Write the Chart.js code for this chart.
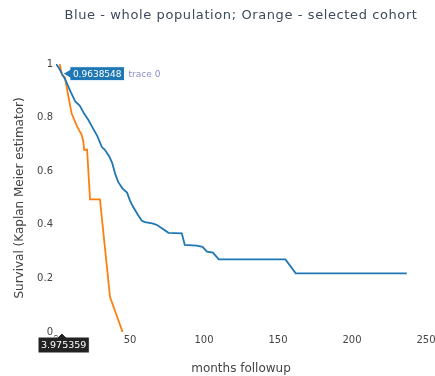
<!DOCTYPE html>
<html>
<head>
<meta charset="utf-8">
<script src="https://cdn.jsdelivr.net/npm/chart.js@4/dist/chart.umd.min.js"></script>
<style>
  html, body { margin: 0; padding: 0; background: #fff; }
  #wrap { width: 435px; height: 376px; }
</style>
</head>
<body>
<div id="wrap"><canvas id="km" width="435" height="376"></canvas></div>
<script>
// Kaplan-Meier survival curves (months of follow-up vs. survival probability)
const popMonths = [0, 2, 3.975359, 6, 8, 10, 13, 16, 19, 22, 25, 28, 31, 33, 36, 38, 40, 42, 45, 48, 50, 52, 55, 58, 60, 65, 68, 72, 76, 85, 87, 95, 99, 102, 106, 110, 155, 162, 237];
const popSurvival = [1.0, 0.985, 0.9638548, 0.945, 0.92, 0.895, 0.86, 0.845, 0.815, 0.79, 0.76, 0.73, 0.69, 0.68, 0.655, 0.63, 0.59, 0.56, 0.535, 0.52, 0.49, 0.468, 0.44, 0.415, 0.41, 0.405, 0.40, 0.385, 0.37, 0.368, 0.325, 0.322, 0.318, 0.30, 0.296, 0.271, 0.271, 0.219, 0.219];

const cohortMonths = [2.5, 4, 6, 8, 10.6, 14, 17.4, 18.5, 19, 21, 23, 29.7, 36.5, 45];
const cohortSurvival = [1.0, 0.96, 0.95, 0.89, 0.815, 0.77, 0.735, 0.71, 0.68, 0.68, 0.495, 0.495, 0.13, 0.0];

const xTicks = [0, 50, 100, 150, 200, 250];
const yTicks = [0, 0.2, 0.4, 0.6, 0.8, 1];

// hovered point on the whole-population curve
const hoverMonth = 3.975359;
const hoverSurvival = 0.9638548;
const hoverTrace = 'trace 0';

const chartTitle = 'Blue - whole population; Orange - selected cohort';
const xTitle = 'months followup';
const yTitle = 'Survival (Kaplan Meier estimator)';

const BLUE = '#1f77b4';
const ORANGE = '#ff7f0e';
const TEXT = '#444';
const FONT = '"DejaVu Sans", Verdana, sans-serif';

const toPoints = (xs, ys) => xs.map((x, i) => ({ x, y: ys[i] }));

// titles and hover labels painted on top of the plot
const overlay = {
  id: 'overlay',
  afterDraw(chart) {
    const { ctx, chartArea: a, scales } = chart;
    ctx.save();
    ctx.fillStyle = '#3d4a5c';
    ctx.textAlign = 'center';
    ctx.textBaseline = 'middle';
    ctx.font = '13px ' + FONT;
    ctx.letterSpacing = '0.6px';
    ctx.fillText(chartTitle, (a.left + a.right) / 2, 16);
    ctx.letterSpacing = '0px';
    ctx.fillStyle = TEXT;
    ctx.font = '12px ' + FONT;
    ctx.fillText(xTitle, (a.left + a.right) / 2, 369);
    ctx.save();
    ctx.translate(20, (a.top + a.bottom) / 2);
    ctx.rotate(-Math.PI / 2);
    ctx.fillText(yTitle, 0, 0);
    ctx.restore();

    const px = scales.x.getPixelForValue(hoverMonth);
    const py = scales.y.getPixelForValue(hoverSurvival);
    ctx.font = '9px ' + FONT;

    // y-value label, to the right of the point
    const yText = String(hoverSurvival);
    const yw = ctx.measureText(yText).width + 6;
    const bx = px + 8, bh = 14;
    ctx.fillStyle = BLUE;
    ctx.strokeStyle = '#fff';
    ctx.lineWidth = 1;
    ctx.beginPath();
    ctx.moveTo(px + 1, py);
    ctx.lineTo(bx, py - 4);
    ctx.lineTo(bx, py - bh / 2);
    ctx.lineTo(bx + yw, py - bh / 2);
    ctx.lineTo(bx + yw, py + bh / 2);
    ctx.lineTo(bx, py + bh / 2);
    ctx.lineTo(bx, py + 4);
    ctx.closePath();
    ctx.fill();
    ctx.stroke();
    ctx.fillStyle = '#fff';
    ctx.textAlign = 'left';
    ctx.fillText(yText, bx + 3, py + 0.5);
    ctx.fillStyle = '#8a8fc0';
    ctx.fillText(hoverTrace, bx + yw + 4, py + 0.5);

    // x-value label, under the axis
    ctx.font = '9.5px ' + FONT;
    const xText = String(hoverMonth);
    const xw = ctx.measureText(xText).width + 6;
    const ay = a.bottom + 1;
    const top = ay + 4, h = 16;
    let lx = px - xw / 2;
    if (lx < 38) lx = 38;
    ctx.fillStyle = '#222';
    ctx.strokeStyle = '#fff';
    ctx.beginPath();
    ctx.moveTo(px, ay);
    ctx.lineTo(px + 4, top);
    ctx.lineTo(lx + xw, top);
    ctx.lineTo(lx + xw, top + h);
    ctx.lineTo(lx, top + h);
    ctx.lineTo(lx, top);
    ctx.lineTo(px - 4, top);
    ctx.closePath();
    ctx.fill();
    ctx.stroke();
    ctx.fillStyle = '#fff';
    ctx.fillText(xText, lx + 3, top + h / 2 + 0.5);
    ctx.restore();
  }
};

new Chart(document.getElementById('km'), {
  type: 'scatter',
  data: {
    datasets: [
      {
        label: 'whole population',
        data: toPoints(popMonths, popSurvival),
        showLine: true,
        borderColor: BLUE,
        backgroundColor: BLUE,
        borderWidth: 1.8,
        pointRadius: 0,
        tension: 0
      },
      {
        label: 'selected cohort',
        data: toPoints(cohortMonths, cohortSurvival),
        showLine: true,
        borderColor: ORANGE,
        backgroundColor: ORANGE,
        borderWidth: 1.8,
        pointRadius: 0,
        tension: 0
      }
    ]
  },
  options: {
    responsive: false,
    animation: false,
    events: [],
    layout: { padding: { top: 64, right: 9, left: 0, bottom: 0 } },
    plugins: {
      legend: { display: false },
      tooltip: { enabled: false },
      title: { display: false }
    },
    scales: {
      x: {
        type: 'linear',
        min: 0,
        max: 250,
        afterBuildTicks(s) { s.ticks = xTicks.map(v => ({ value: v })); },
        afterFit(s) { s.height = 44; s.paddingLeft = 0; s.paddingRight = 0; },
        grid: { display: false, drawTicks: false },
        border: { display: false },
        ticks: {
          color: TEXT,
          padding: 2,
          maxRotation: 0,
          callback: v => String(v),
          font: { family: FONT, size: 10 }
        }
      },
      y: {
        type: 'linear',
        min: 0,
        max: 1,
        afterBuildTicks(s) { s.ticks = yTicks.map(v => ({ value: v })); },
        afterFit(s) { s.width = 56; s.paddingTop = 0; s.paddingBottom = 0; },
        grid: { display: false, drawTicks: false },
        border: { display: false },
        ticks: {
          color: TEXT,
          padding: 3,
          callback: v => String(v),
          font: { family: FONT, size: 10 }
        }
      }
    }
  },
  plugins: [overlay]
});
</script>
</body>
</html>
